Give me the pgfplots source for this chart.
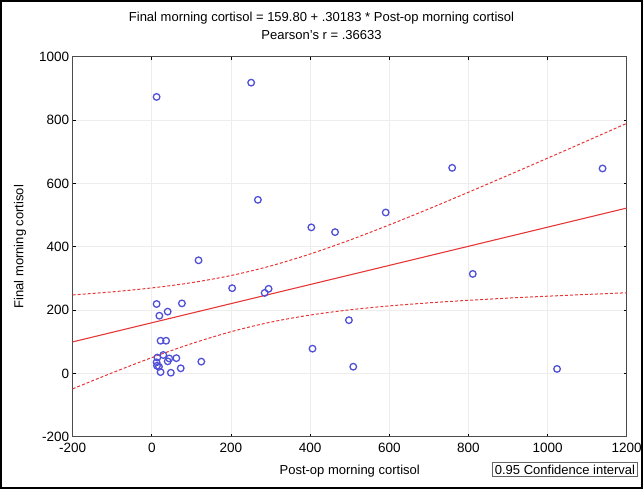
\documentclass[border=0pt]{standalone}
\usepackage{pgfplots}
\pgfplotsset{compat=1.18}
\usepackage{fontspec}
\setmainfont{Liberation Sans}
\definecolor{ptblue}{RGB}{80,80,215}
\definecolor{fitred}{RGB}{230,55,55}
\begin{document}
\begin{tikzpicture}
\path[use as bounding box] (0,0) rectangle (643pt,489pt);
\draw[line width=1.6pt] (0.8pt,0.8pt) rectangle (642.2pt,488.2pt);
\node[align=center, font=\fontsize{13}{18}\selectfont] at (321.5pt,463pt)
  {Final morning cortisol = 159.80 + .30183 * Post-op morning cortisol\\Pearson's r = .36633};
\node[draw=black!60, line width=0.7pt, fill=white, inner sep=2.3pt, font=\fontsize{13}{15}\selectfont] at (565pt,19.5pt) {0.95 Confidence interval};
\begin{axis}[
  at={(72.7pt,52.3pt)}, anchor=south west,
  scale only axis, width=554pt, height=380pt,
  xmin=-200, xmax=1200, ymin=-200, ymax=1000,
  xtick={-200,0,200,400,600,800,1000,1200},
  ytick={-200,0,200,400,600,800,1000},
  /pgf/number format/assume math mode=true,
  /pgf/number format/1000 sep={},
  tick label style={font=\fontsize{13.5}{15}\selectfont},
  xticklabel style={yshift=-3pt},
  grid=major, grid style={black!7, line width=0.8pt},
  tick align=inside, tick pos=both, major tick length=3pt,
  tick style={black, line width=0.8pt},
  axis line style={black!70, line width=1.3pt},
  xlabel={Post-op morning cortisol},
  ylabel={Final morning cortisol},
  label style={font=\fontsize{13}{15}\selectfont},
  xlabel style={at={(axis description cs:0.5,-0.09)}, anchor=center},
  ylabel style={at={(axis description cs:-0.095,0.5)}, anchor=center, rotate=0},
  clip=false,
]
% confidence band (upper / lower)
\addplot[fitred, line width=1pt, dash pattern=on 3pt off 2pt, smooth] coordinates {
(-200,247.7) (-100,257.4) (0,269.8) (100,286.3) (200,308.9) (300,339.1) (400,376.9)
(500,420.8) (600,468.8) (700,519.5) (800,571.9) (900,625.4) (1000,679.5) (1100,734.3) (1200,789.5)};
\addplot[fitred, line width=1pt, dash pattern=on 3pt off 2pt, smooth] coordinates {
(-200,-48.9) (-100,1.8) (0,49.8) (100,93.7) (200,131.5) (300,161.7) (400,184.1)
(500,200.6) (600,213.0) (700,222.7) (800,230.7) (900,237.6) (1000,243.7) (1100,249.3) (1200,254.5)};
% regression line
\addplot[fitred, line width=1.1pt] coordinates {(-200,99.43) (1200,522.0)};
% data points
\addplot[only marks, mark=o, mark size=3.3pt, mark options={ptblue, line width=1.3pt}] coordinates {
(12,873) (251,918) (268,548) (403,461) (463,446) (591,508) (759,649) (1139,647)
(811,314) (1024,14) (118,357) (203,269) (285,254) (295,267) (12,219) (76,221)
(40,195) (19,182) (22,103) (36,103) (14,50) (29,58) (44,47) (62,48) (40,38)
(12,35) (18,21) (13,24) (22,4) (48,2) (73,16) (125,37) (498,168) (406,78) (509,21)};
\end{axis}
\end{tikzpicture}
\end{document}
